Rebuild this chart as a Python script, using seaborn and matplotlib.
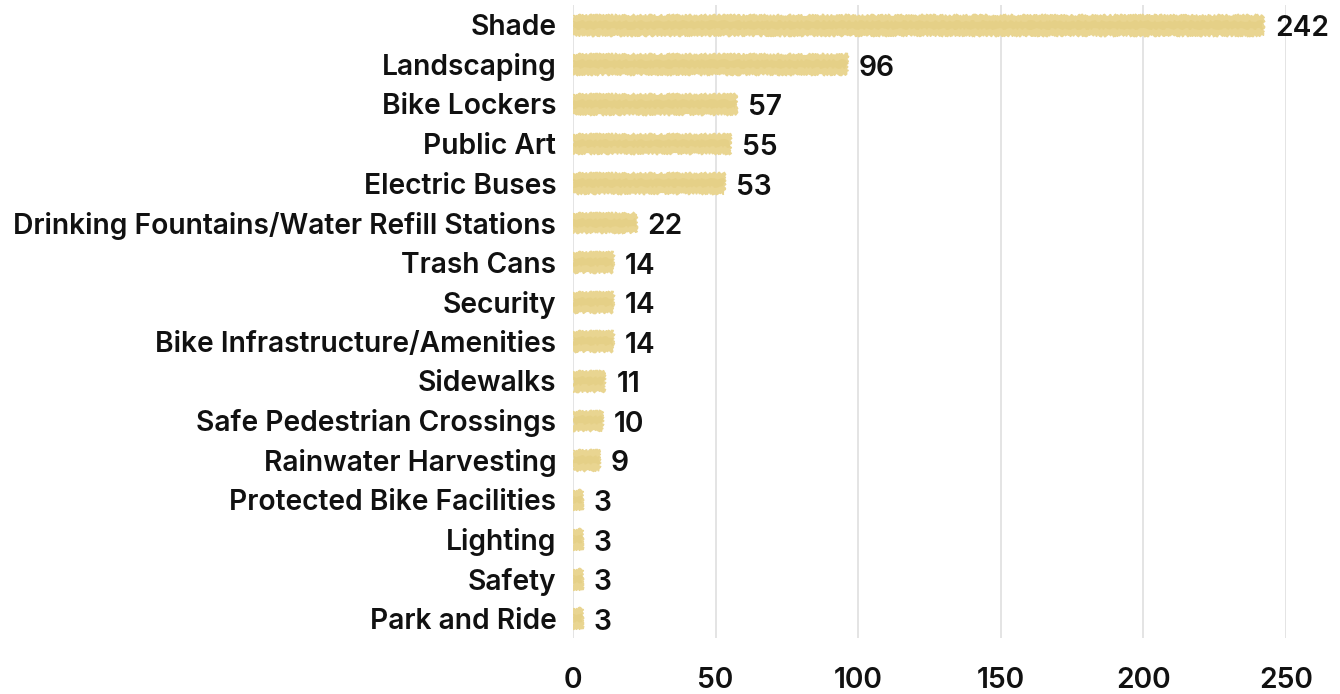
import matplotlib
matplotlib.use("Agg")
import matplotlib.pyplot as plt
import seaborn as sns
import pandas as pd

categories = [
    "Shade", "Landscaping", "Bike Lockers", "Public Art", "Electric Buses",
    "Drinking Fountains/Water Refill Stations", "Trash Cans", "Security",
    "Bike Infrastructure/Amenities", "Sidewalks", "Safe Pedestrian Crossings",
    "Rainwater Harvesting", "Protected Bike Facilities", "Lighting", "Safety",
    "Park and Ride",
]
counts = [242, 96, 57, 55, 53, 22, 14, 14, 14, 11, 10, 9, 3, 3, 3, 3]
x_ticks = [0, 50, 100, 150, 200, 250]

df = pd.DataFrame({"category": categories, "count": counts})

sns.set_theme(style="white")
plt.rcParams["font.family"] = ["Inter", "DejaVu Sans"]

fig = plt.figure(figsize=(13.4, 6.94), dpi=100)
ax = fig.add_axes([573 / 1340, 1 - 638 / 694, (1286 - 573) / 1340, (638 - 5) / 694])

BAR = "#E9D591"
sns.barplot(data=df, x="count", y="category", orient="h", color=BAR,
            width=0.5, ax=ax, saturation=1, edgecolor=BAR, linewidth=1.0)
for p in ax.patches:
    p.set_sketch_params(scale=1.2, length=3.0, randomness=4.0)
    p.set_zorder(3)

# darker streaks for a brushed texture
sns.barplot(data=df, x="count", y="category", orient="h", color="#E2CB7C",
            width=0.2, ax=ax, saturation=1, linewidth=0, alpha=0.45)
for p in ax.patches[len(categories):]:
    p.set_sketch_params(scale=1.0, length=12.0, randomness=6.0)
    p.set_zorder(4)

for i, v in enumerate(counts):
    ax.annotate(str(v), xy=(v, i), xytext=(12, -4), textcoords="offset pixels",
                ha="left", va="center", fontsize=20.3, fontweight="semibold",
                color="#111111", clip_on=False, zorder=5)

ax.set_xlim(0, 250)
ax.set_xticks(x_ticks)
ax.set_xticklabels([str(t) for t in x_ticks])
ax.set_xlabel("")
ax.set_ylabel("")
ax.grid(axis="x", color="#E2E2E2", linewidth=1.3, zorder=0)
ax.grid(axis="y", visible=False)
ax.set_axisbelow(True)
for s in ax.spines.values():
    s.set_visible(False)
ax.tick_params(axis="y", length=0, pad=12, labelsize=20.3)
ax.tick_params(axis="x", length=0, pad=21, labelsize=20.3)
for lab in ax.get_yticklabels() + ax.get_xticklabels():
    lab.set_fontweight("semibold")
    lab.set_color("#111111")

fig.savefig("out.png", dpi=100)
